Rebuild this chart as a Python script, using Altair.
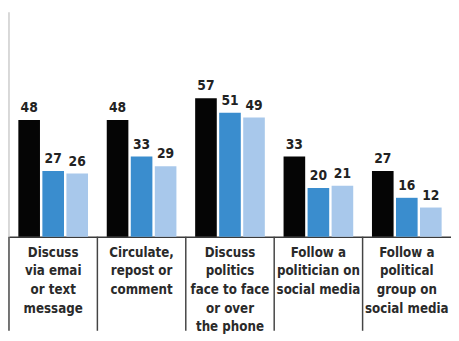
import altair as alt
import pandas as pd

categories = [
    "Discuss|via emai|or text|message",
    "Circulate,|repost or|comment",
    "Discuss|politics|face to face|or over|the phone",
    "Follow a|politician on|social media",
    "Follow a|political|group on|social media",
]
series = ["Group 1", "Group 2", "Group 3"]
values_1 = [48, 48, 57, 33, 27]
values_2 = [27, 33, 51, 20, 16]
values_3 = [26, 29, 49, 21, 12]
colors = ["#050505", "#3a8dce", "#a8c8eb"]

rows = []
for i, c in enumerate(categories):
    for s, vals in zip(series, [values_1, values_2, values_3]):
        rows.append({"cat": c, "series": s, "value": vals[i], "idx": i})
df = pd.DataFrame(rows)
cats_df = pd.DataFrame({"cat": categories, "idx": list(range(len(categories)))})

FONT = "DejaVu Sans Condensed"
PLOT_H = 229

x_enc = alt.X(
    "cat:N",
    sort=categories,
    scale=alt.Scale(paddingInner=0, paddingOuter=0),
    axis=alt.Axis(
        title=None,
        labelAngle=0,
        labelAlign="center",
        labelExpr="split(datum.label, '|')",
        labelFont=FONT,
        labelFontWeight="bold",
        labelFontSize=13.5,
        labelColor="#2a2a2a",
        labelLineHeight=19,
        labelPadding=9,
        labelBaseline="top",
        labelOverlap=False,
        ticks=False,
        domain=True,
        domainColor="#3a3a3a",
        domainWidth=1.5,
        grid=False,
    ),
)
y_enc = alt.Y(
    "value:Q",
    scale=alt.Scale(domain=[0, PLOT_H / 2.48], nice=False, zero=True),
    axis=None,
)
xoff = alt.XOffset(
    "series:N",
    sort=series,
    scale=alt.Scale(paddingInner=0.1, paddingOuter=0.39),
)

base = alt.Chart(df)
bars = base.mark_bar().encode(
    x=x_enc,
    xOffset=xoff,
    y=y_enc,
    color=alt.Color("series:N", sort=series, scale=alt.Scale(domain=series, range=colors), legend=None),
)
labels = base.mark_text(
    font=FONT, fontWeight="bold", fontSize=14, color="#222222",
    baseline="alphabetic", dy=-8,
).encode(
    x=x_enc,
    xOffset=xoff,
    y=y_enc,
    text="value:Q",
)

dividers = alt.Chart(cats_df).mark_rule(color="#444444", strokeWidth=1.5).encode(
    x=alt.X("cat:N", sort=categories, bandPosition=0),
    y=alt.value(PLOT_H),
    y2=alt.value(325),
)
left_border = alt.Chart(cats_df).transform_filter("datum.idx == 0").mark_rule(
    color="#cccccc", strokeWidth=1.5
).encode(
    x=alt.X("cat:N", sort=categories, bandPosition=0),
    y=alt.value(0),
    y2=alt.value(PLOT_H),
)

chart = (
    alt.layer(left_border, bars, labels, dividers)
    .properties(width=451, height=PLOT_H, padding=0, background="white")
    .configure_view(stroke=None)
)

chart.save("out.html", embed_options={"renderer": "svg", "actions": False})
